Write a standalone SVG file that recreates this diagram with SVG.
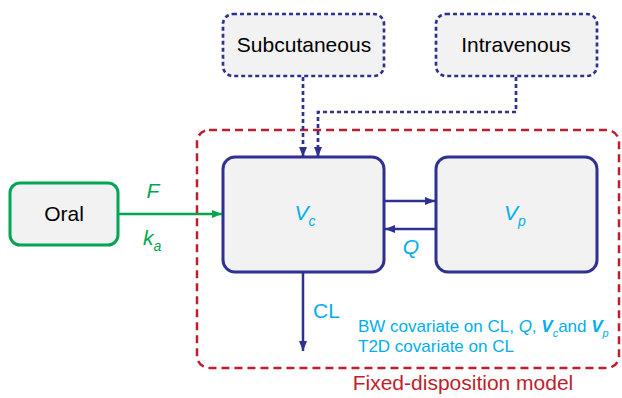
<svg xmlns="http://www.w3.org/2000/svg" width="622" height="398" viewBox="0 0 622 398">
<style>
text{font-family:"Liberation Sans",Arial,sans-serif}
.box{fill:#f2f2f2;stroke:#2e3192;stroke-width:3}
.dbox{fill:#f2f2f2;stroke:#2e3192;stroke-width:2.7;stroke-dasharray:4 3}
.lbl{font-size:21px;fill:#000;text-anchor:middle}
.cy{fill:#00aeef}
.nav{stroke:#2e3192;stroke-width:2.5;fill:none}
.dash{stroke:#2e3192;stroke-width:2.7;fill:none;stroke-dasharray:4 3}
</style>
<defs>
<marker id="an" markerUnits="userSpaceOnUse" markerWidth="10" markerHeight="10" viewBox="0 0 10 10" refX="10" refY="5" orient="auto"><path d="M0,1 L10,5 L0,9 Z" fill="#2e3192"/></marker>
<marker id="ag" markerUnits="userSpaceOnUse" markerWidth="10" markerHeight="10" viewBox="0 0 10 10" refX="10" refY="5" orient="auto"><path d="M0,1 L10,5 L0,9 Z" fill="#00a651"/></marker>
</defs>
<g id="fixed-disposition">
<rect x="197" y="130" width="422" height="238" rx="12" fill="none" stroke="#be1e2d" stroke-width="2.5" stroke-dasharray="8 5"/>
<text x="463" y="390" font-size="21" fill="#be1e2d" text-anchor="middle">Fixed-disposition model</text>
</g>
<g id="subcutaneous">
<rect class="dbox" x="223" y="14" width="161" height="62" rx="10"/>
<text class="lbl" x="304" y="52">Subcutaneous</text>
</g>
<g id="intravenous">
<rect class="dbox" x="436" y="14" width="161" height="62" rx="10"/>
<text class="lbl" x="516" y="52">Intravenous</text>
</g>
<g id="oral">
<rect x="10" y="183" width="108" height="62" rx="10" fill="#f2f2f2" stroke="#00a651" stroke-width="3"/>
<text class="lbl" x="64" y="221">Oral</text>
</g>
<g id="vc">
<rect class="box" x="223" y="157" width="161" height="115" rx="12"/>
<text x="305" y="220" font-size="21" font-style="italic" class="cy" text-anchor="middle">V<tspan font-size="14" dy="6">c</tspan></text>
</g>
<g id="vp">
<rect class="box" x="436" y="157" width="161" height="115" rx="12"/>
<text x="515" y="220" font-size="21" font-style="italic" class="cy" text-anchor="middle">V<tspan font-size="14" dy="6">p</tspan></text>
</g>
<g id="connectors">
<path class="dash" d="M303,77 V157" marker-end="url(#an)"/>
<path class="dash" d="M516,77 V112 H318 V157" marker-end="url(#an)"/>
<path d="M118,214 H222" stroke="#00a651" stroke-width="2.5" fill="none" marker-end="url(#ag)"/>
<path class="nav" d="M385,201 H435" marker-end="url(#an)"/>
<path class="nav" d="M435,229 H385" marker-end="url(#an)"/>
<path class="nav" d="M303,273 V351" marker-end="url(#an)"/>
</g>
<g id="labels">
<text x="153" y="198" font-size="21" font-style="italic" fill="#00a651" text-anchor="middle">F</text>
<text x="143" y="245" font-size="21" font-style="italic" fill="#00a651">k<tspan font-size="14" dy="6">a</tspan></text>
<text x="411" y="254" font-size="21" font-style="italic" class="cy" text-anchor="middle">Q</text>
<text x="313" y="318" font-size="21" class="cy">CL</text>
<text x="358" y="332" font-size="17" class="cy">BW covariate on CL, <tspan font-style="italic">Q</tspan>, <tspan font-style="italic" font-weight="bold">V</tspan><tspan font-size="11" dy="5" font-style="italic">c</tspan><tspan dy="-5">and </tspan><tspan font-style="italic" font-weight="bold">V</tspan><tspan font-size="11" dy="5" font-style="italic">p</tspan></text>
<text x="358" y="352" font-size="17" class="cy">T2D covariate on CL</text>
</g>
</svg>
